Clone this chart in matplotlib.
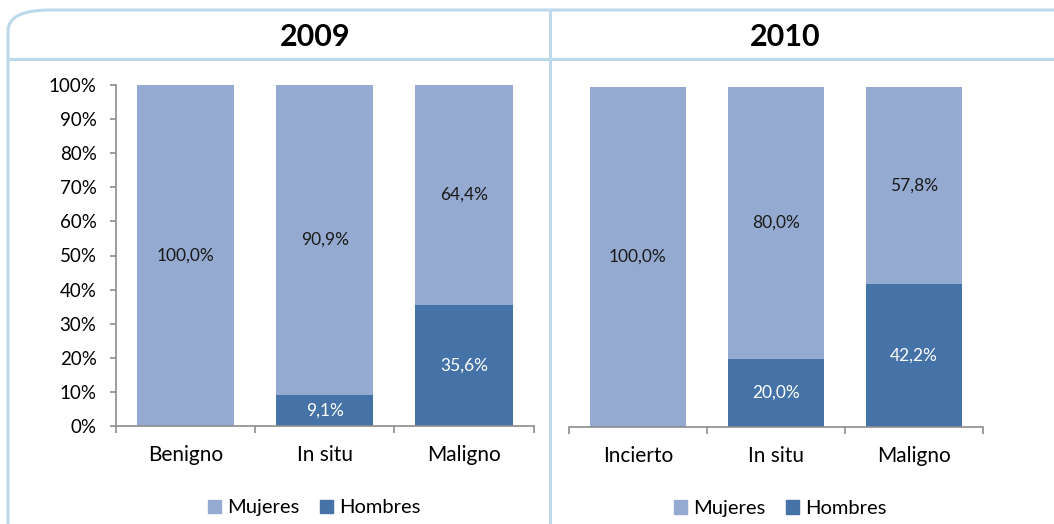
import matplotlib
matplotlib.use("Agg")
import matplotlib.pyplot as plt
from matplotlib.patches import FancyBboxPatch, Patch
from matplotlib.lines import Line2D
import numpy as np

plt.rcParams['font.family'] = ['Lato', 'DejaVu Sans']

years = ["2009", "2010"]
categories_2009 = ["Benigno", "In situ", "Maligno"]
categories_2010 = ["Incierto", "In situ", "Maligno"]
mujeres_2009 = [100.0, 90.9, 64.4]
hombres_2009 = [0.0, 9.1, 35.6]
mujeres_2010 = [100.0, 80.0, 57.8]
hombres_2010 = [0.0, 20.0, 42.2]
yticks = [0, 10, 20, 30, 40, 50, 60, 70, 80, 90, 100]
series_names = ["Mujeres", "Hombres"]

c_muj = "#95AAD0"
c_hom = "#4572A7"
axis_col = "#8C8C8C"
border_col = "#BCD9EC"

W, H = 1054, 524
fig = plt.figure(figsize=(W / 100, H / 100), dpi=100)

# outer border
box = FancyBboxPatch((8 / W, -0.2), 1.2, 1 - 10 / H + 0.2,
                     boxstyle="round,pad=0,rounding_size=0.04",
                     transform=fig.transFigure, facecolor="none",
                     edgecolor=border_col, linewidth=2.2, clip_on=False)
fig.patches.append(box)
fig.lines.append(Line2D([8 / W, 1], [1 - 59 / H, 1 - 59 / H], transform=fig.transFigure,
                        color=border_col, linewidth=2.2))
fig.lines.append(Line2D([550 / W, 550 / W], [0, 1 - 10 / H], transform=fig.transFigure,
                        color=border_col, linewidth=2.2))

def fmt(v):
    return f"{v:.1f}".replace(".", ",") + "%"

def draw(rect, cats, muj, hom, show_y, title, title_x, leg_x):
    ax = fig.add_axes(rect)
    x = np.arange(len(cats))
    ax.bar(x, hom, width=0.7, color=c_hom, label=series_names[1], zorder=2)
    ax.bar(x, muj, width=0.7, bottom=hom, color=c_muj, label=series_names[0], zorder=2)
    for i in range(len(cats)):
        if muj[i] > 0:
            ax.text(x[i], hom[i] + muj[i] / 2, fmt(muj[i]), ha="center", va="center",
                    fontsize=12.5, color="#1a1a1a")
        if hom[i] > 0:
            ax.text(x[i], hom[i] / 2, fmt(hom[i]), ha="center", va="center",
                    fontsize=12.5, color="white")
    ax.set_xlim(-0.5, len(cats) - 0.5)
    ax.set_ylim(0, 100)
    ax.set_xticks(x)
    ax.set_xticklabels(cats, fontsize=15)
    ax.tick_params(axis="x", length=0, pad=14)
    ax.set_xticks(np.arange(len(cats) + 1) - 0.5, minor=True)
    ax.tick_params(axis="x", which="minor", length=5, color=axis_col, width=1.2, direction="out")
    for s in ["top", "right"]:
        ax.spines[s].set_visible(False)
    ax.spines["bottom"].set_color(axis_col)
    ax.spines["bottom"].set_linewidth(1.2)
    if show_y:
        ax.set_yticks(yticks)
        ax.set_yticklabels([f"{t}%" for t in yticks], fontsize=13.5)
        ax.tick_params(axis="y", length=4, color=axis_col, width=1.2, pad=10)
        ax.spines["left"].set_color(axis_col)
        ax.spines["left"].set_linewidth(1.2)
    else:
        ax.set_yticks([])
        ax.spines["left"].set_visible(False)
    ax.legend(handles=[Patch(color=c_muj), Patch(color=c_hom)], labels=series_names,
              loc="center", bbox_to_anchor=(leg_x, -0.24), ncol=2, frameon=False,
              fontsize=14.5, handlelength=0.65, handleheight=0.65, handletextpad=0.3,
              columnspacing=1.0)
    fig.text(title_x / W, 1 - 37 / H, title, ha="center", va="center",
             fontsize=22, fontweight="bold")
    return ax

draw([116 / W, 1 - 426 / H, 417.5 / W, 341 / H], categories_2009, mujeres_2009, hombres_2009,
     True, years[0], 315, 0.475)
draw([569 / W, 1 - 427 / H, 414 / W, 340 / H], categories_2010, mujeres_2010, hombres_2010,
     False, years[1], 785, 0.51)

fig.savefig("out.png", dpi=100, facecolor="white")
